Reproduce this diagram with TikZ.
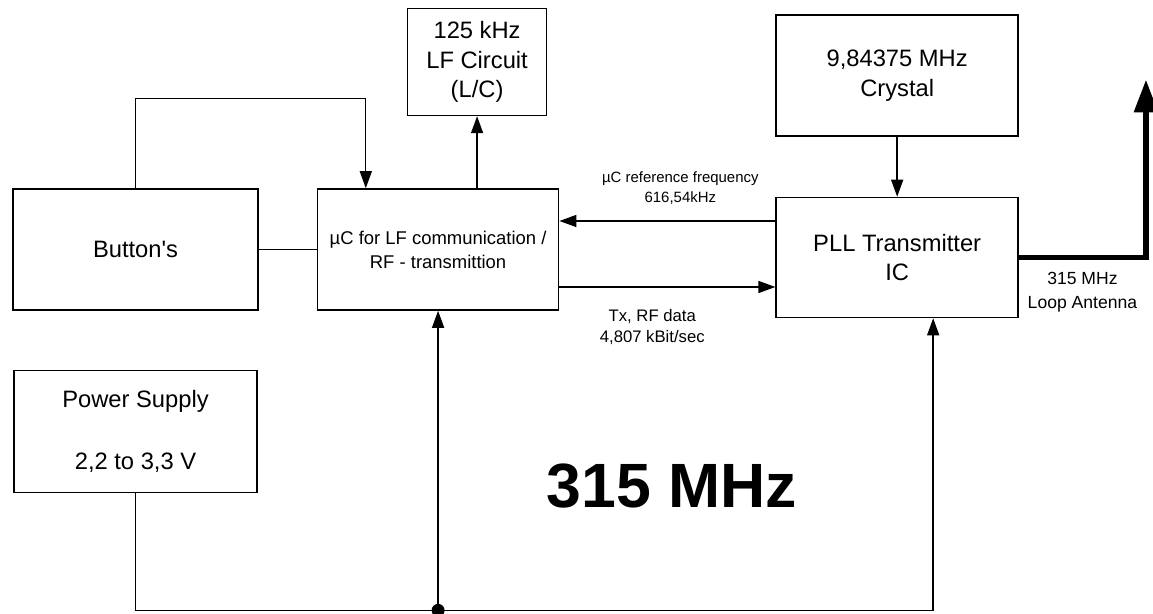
\documentclass[tikz,border=0pt]{standalone}
\usepackage{fontspec}
\setmainfont{Liberation Sans}
\usetikzlibrary{positioning, arrows.meta, calc}

\begin{document}
\begin{tikzpicture}[node distance=1cm,
    block/.style={draw, line width=0.9pt, minimum width=4.86cm, minimum height=2.42cm, inner sep=0pt, align=center, font=\fontsize{13.5}{17}\selectfont},
    link/.style={line width=0.8pt, -{Triangle[length=0.34cm, width=0.24cm]}},
    note/.style={align=center, font=\fontsize{8.5}{11.3}\selectfont}]
    \useasboundingbox (0,0) rectangle (23.06,-12.28);
    \node[block, minimum width=4.9cm] (buttons) at (2.71,-4.99) {Button\textquotesingle s};
    \node[block, minimum width=4.82cm, right=1.16cm of buttons, font=\fontsize{10.5}{13.6}\selectfont] (uc) {µC for LF communication /\\RF - transmittion};
    \node[block, minimum width=2.78cm, minimum height=2.14cm, above=1.44cm of uc.north, xshift=0.78cm] (lf) {125 kHz\\LF Circuit\\(L/C)};
    \node[block, minimum width=4.84cm, minimum height=2.4cm, right=4.32cm of uc, yshift=-0.16cm] (pll) {PLL Transmitter\\IC};
    \node[block, minimum width=4.84cm, above=1.2cm of pll] (crystal) {9,84375 MHz\\Crystal};
    \node[block, minimum height=2.44cm, below=1.18cm of buttons] (power) {Power Supply\\[0.63cm]2,2 to 3,3 V};
    \node[font=\fontsize{35.6}{40}\selectfont\bfseries] (band) at ($(uc.east)!0.5!(pll.west)+(0.09,-4.66)$) {315 MHz};

    % buttons feed the controller
    \coordinate[above=1.8cm of buttons.north] (fbk);
    \coordinate[right=0.98cm of uc.north west] (ucin);
    \draw[link] (buttons.north) -- (fbk) -| (ucin);
    \draw[line width=0.8pt] (buttons) -- (uc);
    \draw[link] (uc.north -| lf.south) -- (lf.south);

    % controller <-> transmitter
    \coordinate[above=0.57cm of uc.east] (refin);
    \coordinate[below=0.75cm of uc.east] (txout);
    \draw[link] (refin -| pll.west) -- node[note, above=0.2cm, pos=0.44] (reflabel) {µC reference frequency\\616,54kHz} (refin);
    \draw[link] (txout) -- node[note, font=\fontsize{9.5}{12}\selectfont, below=0.32cm, pos=0.43] (txlabel) {Tx, RF data\\4,807 kBit/sec} (txout -| pll.west);
    \draw[link] (crystal) -- (pll);

    % antenna
    \coordinate[right=2.54cm of pll.east] (antbend);
    \coordinate[above=3.56cm of antbend] (anttip);
    \draw[line width=3.4pt, -{Triangle[length=0.66cm, width=0.46cm]}] (pll.east) -- node[note, font=\fontsize{10}{13.5}\selectfont, below=0.12cm] (antlabel) {315 MHz\\Loop Antenna} (antbend) -- (anttip);

    % supply bus
    \coordinate[below=2.34cm of power.south] (busleft);
    \coordinate[right=0.72cm of pll.south] (pllin);
    \draw[link] (power.south) -- (busleft) -| (pllin);
    \draw[link] (busleft -| uc.south) -- (uc.south);
    \fill (busleft -| uc.south) circle (0.13cm);
\end{tikzpicture}
\end{document}
